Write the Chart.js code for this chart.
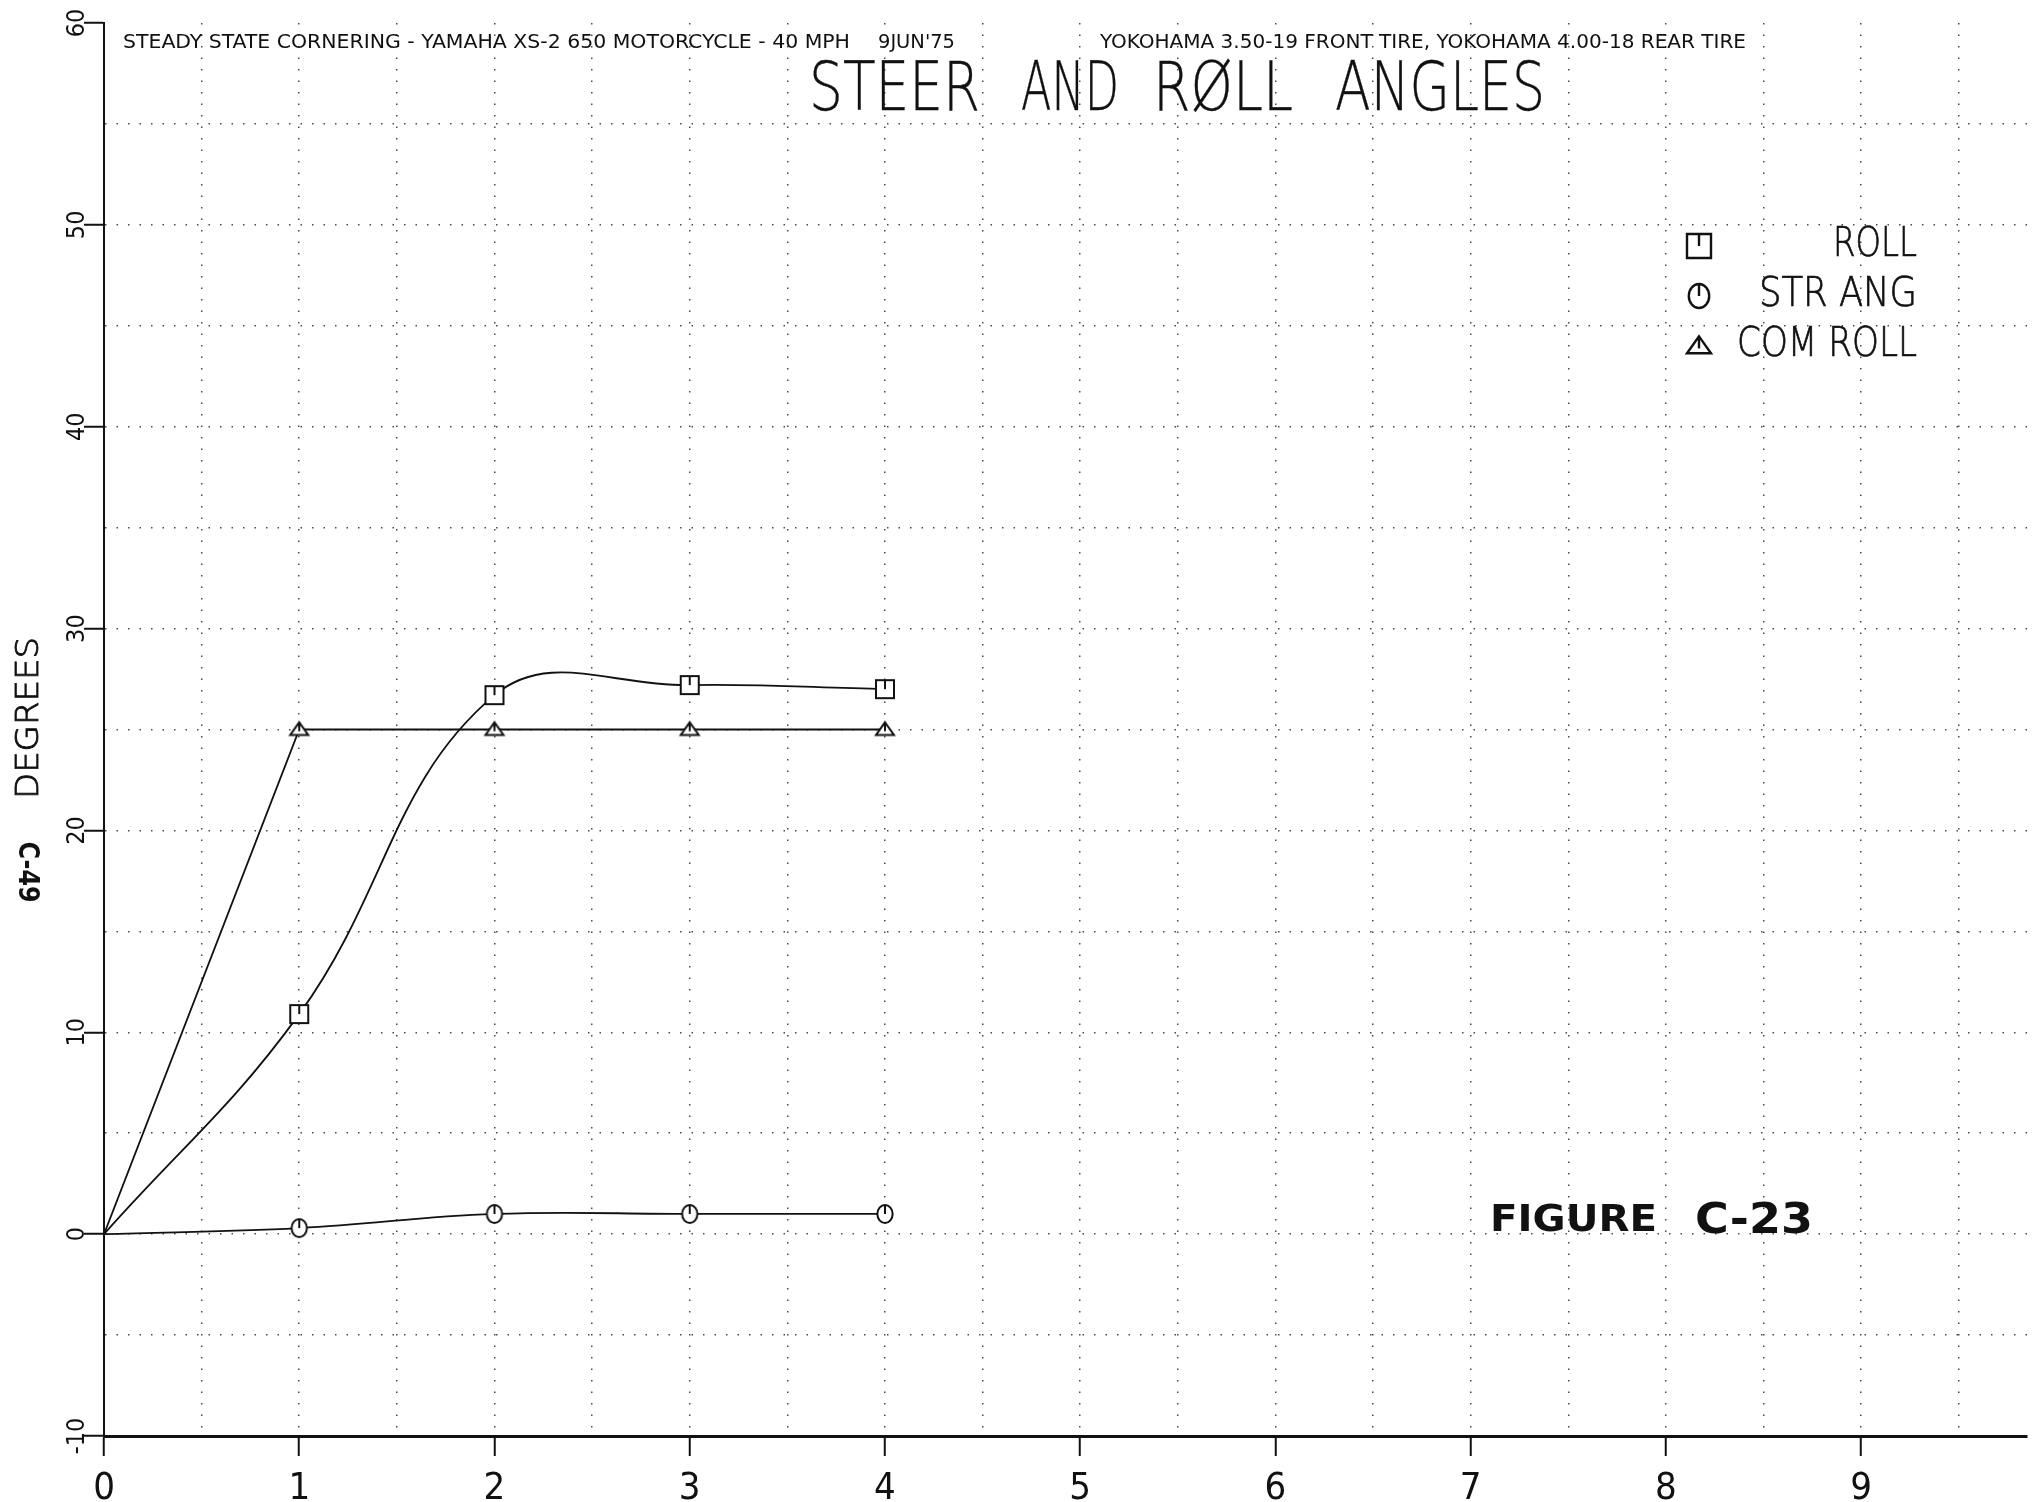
<!DOCTYPE html>
<html>
<head>
<meta charset="utf-8">
<script src="https://cdn.jsdelivr.net/npm/chart.js@4.4.1/dist/chart.umd.min.js"></script>
<style>
html,body{margin:0;padding:0;background:#fff;}
canvas{display:block;}
</style>
</head>
<body>
<canvas id="c" width="2038" height="1502"></canvas>
<script>
// ---- data ----
const seriesNames = ['ROLL', 'STR ANG', 'COM ROLL'];
const timeValues = [0, 1, 2, 3, 4];
const rollValues = [0, 10.9, 26.7, 27.2, 27.0];
const strAngValues = [0, 0.3, 1.0, 1.0, 1.0];
const comRollValues = [0, 25, 25, 25, 25];
const xTickLabels = ['0', '1', '2', '3', '4', '5', '6', '7', '8', '9'];
const yTickLabels = ['-10', '0', '10', '20', '30', '40', '50', '60'];
const titleText = 'STEER AND RØLL ANGLES';
const headerLeft = 'STEADY STATE CORNERING - YAMAHA XS-2 650 MOTORCYCLE - 40 MPH';
const headerDate = "9JUN'75";
const headerRight = 'YOKOHAMA 3.50-19 FRONT TIRE, YOKOHAMA 4.00-18 REAR TIRE';
const yAxisTitle = 'DEGREES';
const pageNote = 'C-49';
const figureWord = 'FIGURE';
const figureNumber = 'C-23';

// ---- style ----
const INK = '#111';
const GRID = '#4a4a4a';
const NARROW = "'Liberation Sans Narrow', 'DejaVu Sans Condensed', 'Liberation Sans', sans-serif";
const THIN = "'DejaVu Sans', 'Liberation Sans Narrow', sans-serif";
const BOLD = "'DejaVu Sans', 'Liberation Sans', sans-serif";

function makeMarker(shape, size, lw) {
  const pad = 3;
  const c = document.createElement('canvas');
  c.width = c.height = Math.ceil(size + pad * 2);
  const g = c.getContext('2d');
  const cx = c.width / 2, cy = c.height / 2, h = size / 2;
  g.lineWidth = lw; g.strokeStyle = INK; g.fillStyle = '#fff';
  g.beginPath();
  if (shape === 'square') g.rect(cx - h, cy - h, size, size);
  else if (shape === 'circle') g.ellipse(cx, cy, h * 0.85, h, 0, 0, Math.PI * 2);
  else { g.moveTo(cx, cy - h * 0.8); g.lineTo(cx + h, cy + h * 0.6); g.lineTo(cx - h, cy + h * 0.6); g.closePath(); }
  g.fill(); g.stroke();
  g.beginPath();
  g.moveTo(cx, shape === 'triangle' ? cy - h * 0.8 : cy - h);
  g.lineTo(cx, shape === 'triangle' ? cy + h * 0.2 : cy);
  g.stroke();
  return c;
}
const markerShapes = ['square', 'circle', 'triangle'];
const plotMarkers = markerShapes.map(s => makeMarker(s, 18, 2));
const legendMarkers = markerShapes.map(s => makeMarker(s, 24, 2.4));

function fitText(ctx, text, x, y, w, font, align, rot, strokeW) {
  ctx.save();
  ctx.font = font;
  const m = ctx.measureText(text).width;
  ctx.translate(x, y);
  if (rot) ctx.rotate(rot);
  ctx.scale(w / m, 1);
  ctx.textAlign = align;
  ctx.textBaseline = 'middle';
  ctx.fillStyle = INK;
  ctx.fillText(text, 0, 0);
  if (strokeW) {
    ctx.strokeStyle = INK;
    ctx.lineWidth = strokeW;
    ctx.strokeText(text, 0, 0);
  }
  ctx.restore();
}

const annotate = {
  id: 'annotate',
  afterDraw(chart) {
    const ctx = chart.ctx;
    // header lines
    fitText(ctx, headerLeft, 123, 43, 727, `20px ${NARROW}`, 'left');
    fitText(ctx, headerDate, 878, 43, 77, `20px ${NARROW}`, 'left');
    fitText(ctx, headerRight, 1100, 43, 646, `20px ${NARROW}`, 'left');
    // title, word by word (plotter spacing)
    const words = titleText.split(' ');
    const wordBoxes = [[809, 171], [1021, 98], [1153, 140], [1335, 210]];
    words.forEach((w, i) => fitText(ctx, w, wordBoxes[i][0], 92, wordBoxes[i][1], `200 68px ${THIN}`, 'left', 0, 0.4));
    // legend
    const ly = [246, 296, 346];
    const lw = [84, 158, 180];
    seriesNames.forEach((name, i) => {
      const m = legendMarkers[i];
      ctx.drawImage(m, 1699 - m.width / 2, ly[i] - m.height / 2);
      fitText(ctx, name, 1917, ly[i], lw[i], `200 40px ${THIN}`, 'right', 0, 0.7);
    });
    // axis title & page note
    fitText(ctx, yAxisTitle, 30, 718, 162, `200 32px ${THIN}`, 'center', -Math.PI / 2, 0.9);
    fitText(ctx, pageNote, 26, 872, 61, `bold 28px ${BOLD}`, 'center', Math.PI / 2);
    // handwritten figure label
    fitText(ctx, figureWord, 1490, 1221, 167, `bold 38px ${BOLD}`, 'left');
    fitText(ctx, figureNumber, 1695, 1222, 118, `bold 42px ${BOLD}`, 'left');
  }
};

const toPoints = vals => timeValues.map((t, i) => ({ x: t, y: vals[i] }));
const seriesValues = [rollValues, strAngValues, comRollValues];
const tensions = [0.4, 0.4, 0];

const datasets = seriesNames.map((name, i) => ({
  label: name,
  data: toPoints(seriesValues[i]),
  borderColor: INK,
  borderWidth: 1.8,
  fill: false,
  tension: tensions[i],
  pointStyle: plotMarkers[i],
  pointRadius: ctx => (ctx.dataIndex === 0 ? 0 : 9),
  pointHoverRadius: ctx => (ctx.dataIndex === 0 ? 0 : 9)
}));

new Chart(document.getElementById('c'), {
  type: 'line',
  data: { datasets },
  options: {
    responsive: false,
    animation: false,
    devicePixelRatio: 1,
    events: [],
    layout: { padding: { top: 23, right: 8, left: 0, bottom: 0 } },
    plugins: { legend: { display: false }, title: { display: false }, tooltip: { enabled: false } },
    scales: {
      x: {
        type: 'linear',
        min: 0,
        max: 9.85,
        afterFit(s) { s.height = 66; },
        ticks: {
          stepSize: 0.5,
          includeBounds: false,
          autoSkip: false,
          minRotation: 0,
          maxRotation: 0,
          padding: 10,
          color: INK,
          font: { family: NARROW, size: 38 },
          callback: v => (Number.isInteger(v) ? xTickLabels[v] : '')
        },
        grid: {
          color: GRID,
          lineWidth: 1.5,
          tickLength: 20,
          tickWidth: 2,
          tickColor: c => (c.tick && Number.isInteger(c.tick.value) ? INK : 'rgba(0,0,0,0)'),
          tickBorderDash: []
        },
        border: { display: true, color: INK, width: 3, dash: [1.5, 10] }
      },
      y: {
        type: 'linear',
        min: -10,
        max: 60,
        afterFit(s) { s.width = 104; },
        ticks: {
          stepSize: 5,
          autoSkip: false,
          minRotation: 90,
          maxRotation: 90,
          crossAlign: 'center',
          padding: -12,
          color: INK,
          font: { family: NARROW, size: 25 },
          callback: v => (v % 10 === 0 ? yTickLabels[(v + 10) / 10] : '')
        },
        grid: {
          color: c => (c.tick && c.tick.value === 60 ? 'rgba(0,0,0,0)' : GRID),
          lineWidth: 1.5,
          tickLength: 20,
          tickWidth: 2,
          tickColor: c => (c.tick && c.tick.value % 10 === 0 ? INK : 'rgba(0,0,0,0)'),
          tickBorderDash: []
        },
        border: { display: true, color: INK, width: 2, dash: [1.5, 10] }
      }
    }
  },
  plugins: [annotate]
});
</script>
</body>
</html>
